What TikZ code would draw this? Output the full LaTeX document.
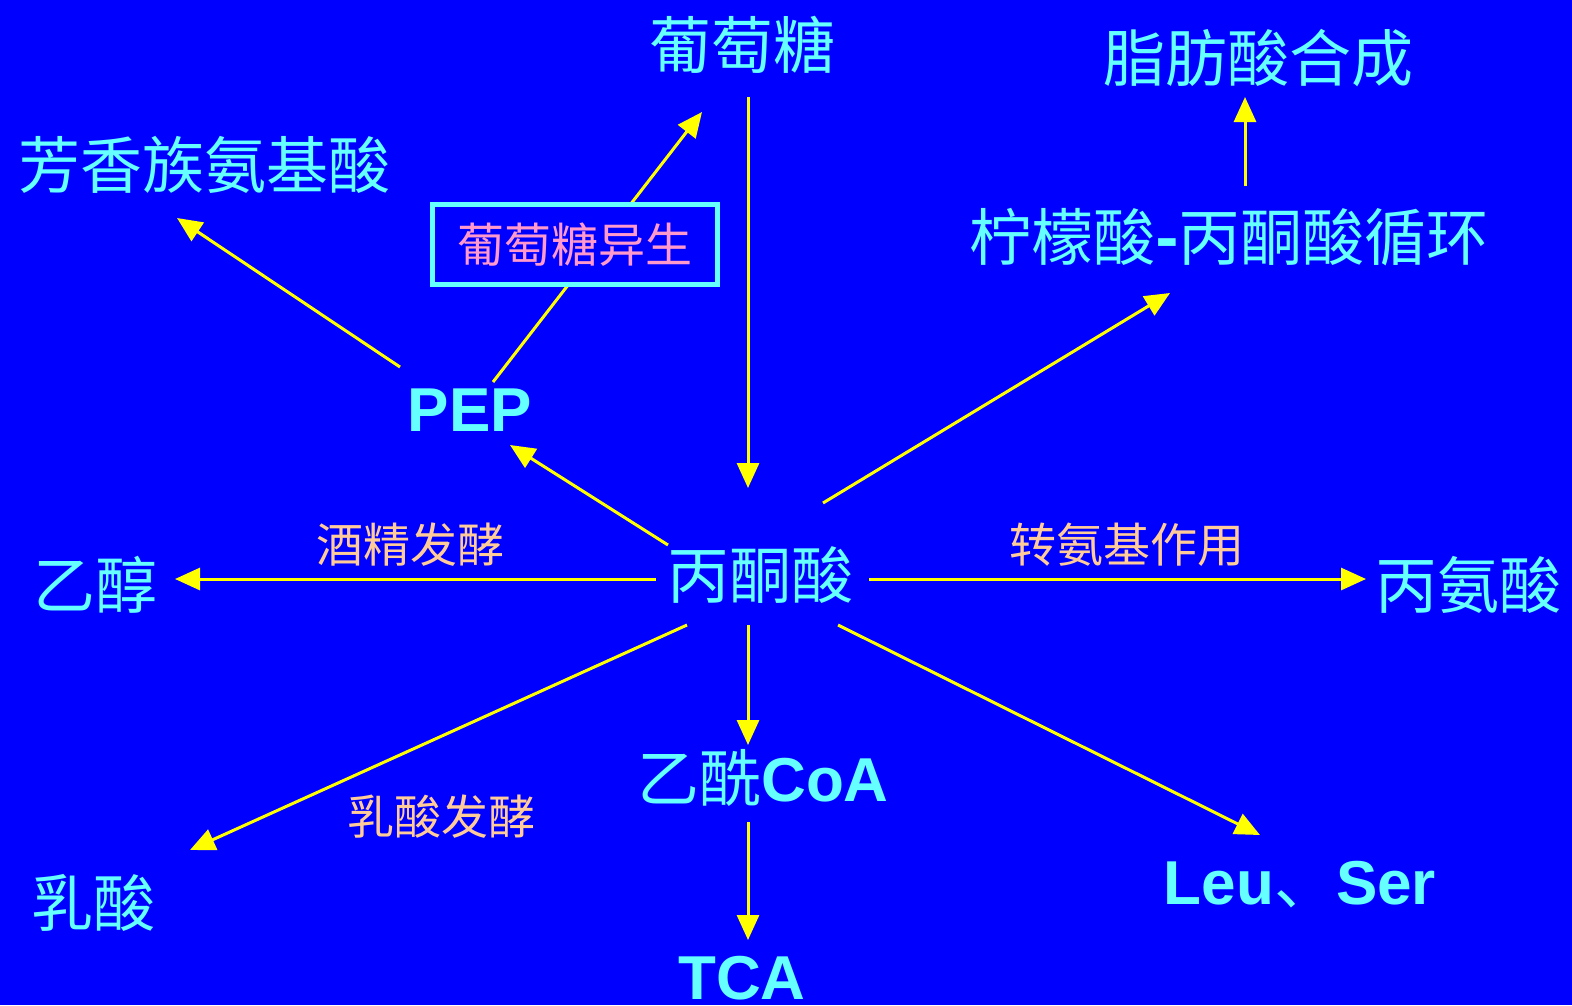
\documentclass[tikz,border=0pt]{standalone}
\usepackage{fontspec}
\setmainfont{Liberation Sans}
\newfontfamily\cjk{Noto Sans CJK SC}
\usetikzlibrary{arrows.meta}
\definecolor{bgblue}{HTML}{0000FF}
\definecolor{txtcyan}{HTML}{66FFFF}
\definecolor{lnyellow}{HTML}{FFFF00}
\definecolor{peach}{HTML}{FFCC99}
\definecolor{pinktxt}{HTML}{FF99CC}
\begin{document}
\begin{tikzpicture}[x=1pt,y=-1pt,
  big/.style={text=txtcyan,inner sep=0pt,font=\cjk\fontsize{62}{64}\selectfont},
  bigb/.style={text=txtcyan,inner sep=0pt,font=\bfseries\fontsize{62}{64}\selectfont},
  lab/.style={text=peach,inner sep=0pt,font=\cjk\fontsize{47}{50}\selectfont},
  conn/.style={draw=lnyellow,line width=3pt,-{Triangle[length=25pt,width=22pt]}},
  boxst/.style={draw=txtcyan,line width=5pt,fill=bgblue,text=pinktxt,inner sep=0pt,
    minimum width=285pt,minimum height=80pt,font=\cjk\fontsize{47}{50}\selectfont}]
\fill[bgblue] (0,0) rectangle (1572,1005);
\useasboundingbox (0,0) rectangle (1572,1005);

% nodes
\node[big] (glc) at (742,45) {葡萄糖};
\node[big] (fas) at (1258,58) {脂肪酸合成};
\node[big] (aro) at (205,165) {芳香族氨基酸};
\node[big] (cit) at (1229,237) {柠檬酸\textbf{-}丙酮酸循环};
\node[bigb] (pep) at (470,410) {PEP};
\node[big] (pyr) at (760,575) {丙酮酸};
\node[big] (eth) at (95,585) {乙醇};
\node[big] (ala) at (1468,585) {丙氨酸};
\node[text=txtcyan,inner sep=0pt] (acoa) at (763,778) {{\cjk\fontsize{62}{64}\selectfont 乙酰}{\bfseries\fontsize{62}{64}\selectfont CoA}};
\node[bigb] (tca) at (742,978) {TCA};
\node[big] (lac) at (93,903) {乳酸};
\node[text=txtcyan,inner sep=0pt] (leu) at (1300,885) {{\bfseries\fontsize{62}{64}\selectfont Leu}{\cjk\fontsize{62}{64}\selectfont 、}{\bfseries\fontsize{62}{64}\selectfont Ser}};

\node[lab] (l1) at (410,545) {酒精发酵};
\node[lab] (l2) at (1127,545) {转氨基作用};
\node[lab] (l3) at (441,817) {乳酸发酵};

% connector end points
\coordinate (a1s) at (748,97);   \coordinate (a1e) at (748,488);
\coordinate (a2s) at (493,382);  \coordinate (a2e) at (702,112);
\coordinate (a3s) at (400,367);  \coordinate (a3e) at (177,218);
\coordinate (a4s) at (668,545);  \coordinate (a4e) at (510,445);
\coordinate (a5s) at (823,503);  \coordinate (a5e) at (1170,293);
\coordinate (a6s) at (1245,186); \coordinate (a6e) at (1245,97);
\coordinate (a7s) at (656,579);  \coordinate (a7e) at (175,579);
\coordinate (a8s) at (869,579);  \coordinate (a8e) at (1366,579);
\coordinate (a9s) at (687,625);  \coordinate (a9e) at (190,850);
\coordinate (a10s) at (748,625); \coordinate (a10e) at (748,745);
\coordinate (a11s) at (838,625); \coordinate (a11e) at (1260,835);
\coordinate (a12s) at (748,822); \coordinate (a12e) at (748,940);

\draw[conn] (a1s) -- (a1e);
\draw[conn] (a2s) -- (a2e);
\draw[conn] (a3s) -- (a3e);
\draw[conn] (a4s) -- (a4e);
\draw[conn] (a5s) -- (a5e);
\draw[conn] (a6s) -- (a6e);
\draw[conn] (a7s) -- (a7e);
\draw[conn] (a8s) -- (a8e);
\draw[conn] (a9s) -- (a9e);
\draw[conn] (a10s) -- (a10e);
\draw[conn] (a11s) -- (a11e);
\draw[conn] (a12s) -- (a12e);

\node[boxst] (gng) at (575,244.5) {葡萄糖异生};
\end{tikzpicture}
\end{document}
